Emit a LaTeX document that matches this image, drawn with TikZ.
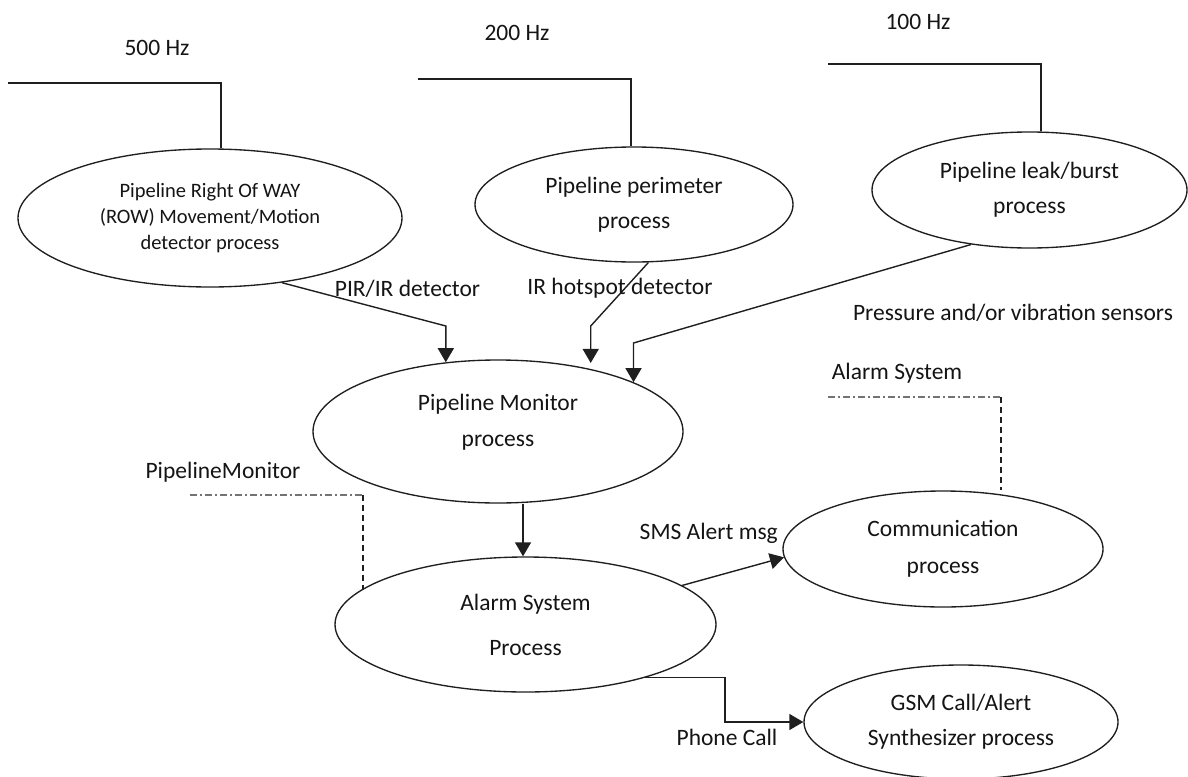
\documentclass[tikz,border=0pt]{standalone}
\usepackage{fontspec}
\setmainfont{Carlito}
\usetikzlibrary{shapes.geometric, arrows.meta}

\begin{document}
\begin{tikzpicture}[x=1pt, y=-1pt,
  proc/.style={ellipse, draw=black!88, line width=1.35pt, inner sep=0pt,
    align=center, text=black!92, font=\fontsize{23.5}{35}\selectfont},
  lbl/.style={inner sep=0pt, text=black!92, font=\fontsize{23.5}{28}\selectfont},
  wire/.style={draw=black!88, line width=1.4pt},
  arr/.style={wire, -{Triangle[length=14pt, width=16pt]}},
  dashdot/.style={draw=black!55, line width=1.3pt,
    dash pattern=on 7pt off 3pt on 2pt off 3pt},
  vdash/.style={draw=black!88, line width=1.3pt, dash pattern=on 6pt off 4pt}
]
\useasboundingbox (0,0) rectangle (1188,776);

% sensing processes
\node[proc, minimum width=384pt, minimum height=138pt,
      font=\fontsize{20.5}{26}\selectfont] (row) at (210,218)
  {Pipeline Right Of WAY\\(ROW) Movement/Motion\\detector process};
\node[proc, minimum width=318pt, minimum height=115pt] (peri) at (634,204.5)
  {Pipeline perimeter\\process};
\node[proc, minimum width=315pt, minimum height=116pt] (leak) at (1029.5,190)
  {Pipeline leak/burst\\process};

% monitoring and alarm processes
\node[proc, minimum width=370pt, minimum height=143pt,
      font=\fontsize{23.5}{36}\selectfont] (mon) at (498,431.5)
  {\raisebox{10pt}[\height][\depth]{\begin{tabular}{@{}c@{}}Pipeline Monitor\\process\end{tabular}}};
\node[proc, minimum width=381pt, minimum height=135pt,
      font=\fontsize{23.5}{45}\selectfont] (alarm) at (525.5,624.5)
  {Alarm System\\Process};
\node[proc, minimum width=320pt, minimum height=116pt,
      font=\fontsize{23.5}{37}\selectfont] (comm) at (943,549)
  {Communication\\process};
\node[proc, minimum width=314pt, minimum height=114pt] (gsm) at (961,722)
  {GSM Call/Alert\\Synthesizer process};

% sampling rates feeding the sensing processes
\node[lbl] (f500) at (157,48) {500 Hz};
\node[lbl] (f200) at (517,33) {200 Hz};
\node[lbl] (f100) at (918,22) {100 Hz};
\coordinate (w500) at (8,83);
\coordinate (w200) at (418,79);
\coordinate (w100) at (828,64);
\draw[wire] (w500) -| (row.81);
\draw[wire] (w200) -| (peri.93);
\draw[wire] (w100) -| (leak.79);

% detector flows into the monitor
\draw[arr] (row.-42) -- (mon.127 |- 0,326) -- (mon.127);
\draw[arr, shorten >=6pt] (peri.-76) -- (mon.34 |- 0,326) -- (mon.34);
\draw[arr] (leak.-137) -- (mon.20 |- 0,343) -- (mon.20);
\node[lbl] (pir) at (407.5,289) {PIR/IR detector};
\node[lbl] (irh) at (620,288) {IR hotspot detector};
\node[lbl] (prs) at (1013,313) {Pressure and/or vibration sensors};

% monitor to alarm
\draw[arr] (mon.south -| 523,0) -- (alarm.north -| 523,0);

% data store links
\node[lbl] (pml) at (223,472) {PipelineMonitor};
\coordinate (pmA) at (190,495);
\coordinate (pmB) at (363,495);
\draw[dashdot] (pmA) -- (pmB);
\draw[vdash] (pmB) -- (pmB |- alarm.168);

\node[lbl] (asl) at (897,373) {Alarm System};
\coordinate (asA) at (828,397);
\coordinate (asB) at (1001,397);
\draw[dashdot] (asA) -- (asB);
\draw[vdash] (asB) -- (asB |- comm.north);

% alarm outputs
\draw[arr] (alarm.14) -- (comm.-177);
\node[lbl, anchor=east] (sms) at (778,533) {SMS Alert msg};

\coordinate (phk) at (725,722);
\draw[arr] (alarm.-24) -| (phk) -- (gsm.west);
\node[lbl] (phl) at (727,737) {Phone Call};
\end{tikzpicture}
\end{document}
